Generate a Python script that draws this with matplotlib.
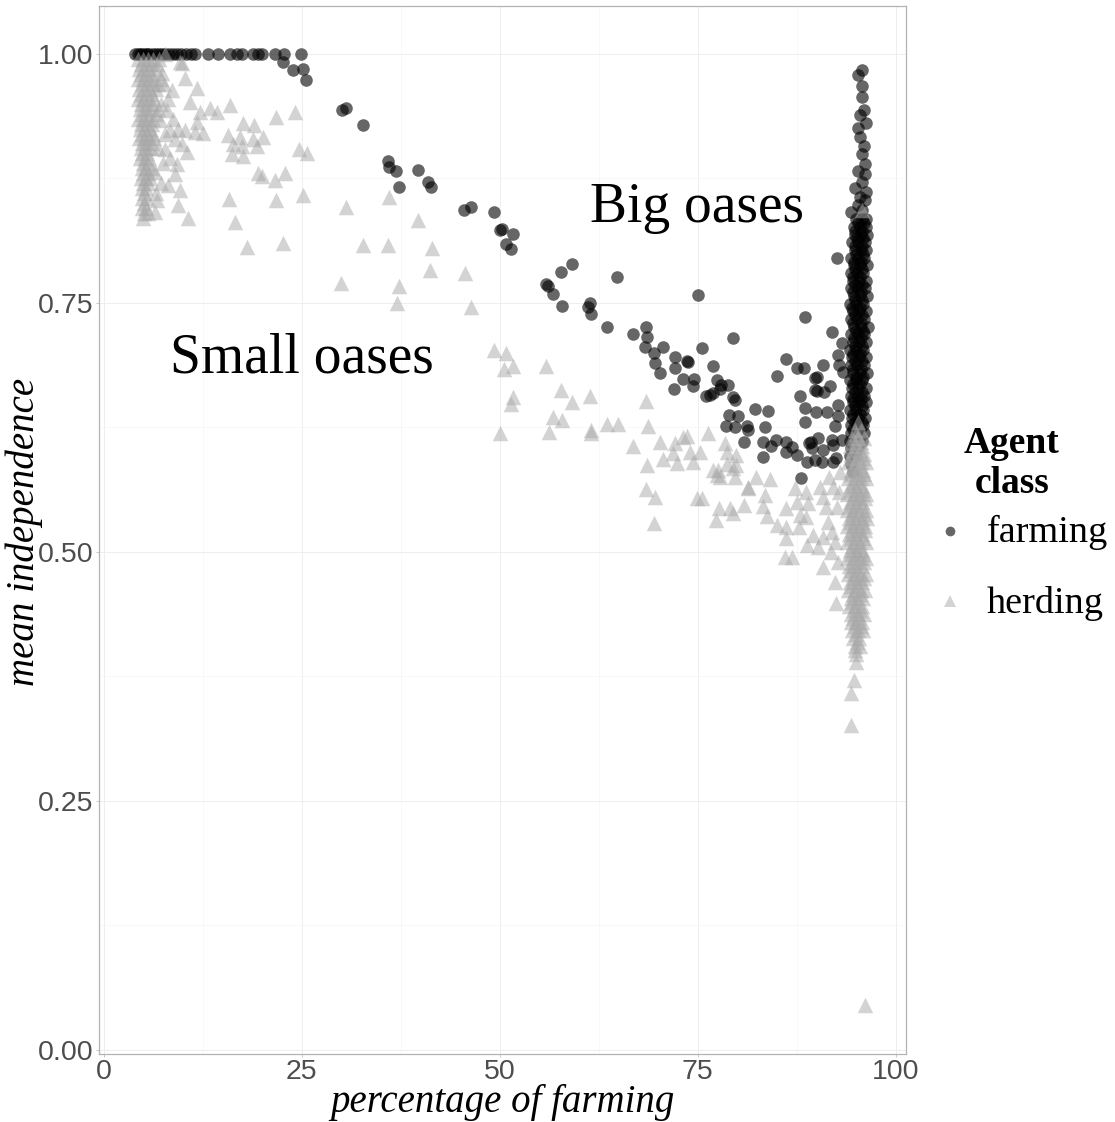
import matplotlib
matplotlib.use("Agg")
import matplotlib.pyplot as plt
from matplotlib.lines import Line2D


SERIF = "Liberation Serif"
SANS = "Liberation Sans"

FARM_COLOR = "#000000"
HERD_COLOR = "#A9A9A9"
FARM_ALPHA = 0.6
HERD_ALPHA = 0.5

# --- farming agents -------------------------------------------------------
# small oases where every farmer is fully independent
FARM_TOP_X = [4.0, 4.3, 4.6, 4.9, 5.2, 5.5, 5.8, 6.2, 6.6, 7.0, 7.4, 7.8, 8.3,
              8.8, 9.3, 9.8, 10.4, 11.0, 11.6, 13.2, 14.4, 16.0, 16.8, 17.5,
              18.9, 19.5, 20.0, 21.6, 22.8, 24.9]
FARM_TOP_Y = [1.0] * len(FARM_TOP_X)

# the diagonal trail between small and big oases
FARM_TRAIL_X = [
    22.7, 23.9, 25.2, 25.5, 30.1, 30.6, 32.7, 35.9, 36.0, 36.9, 37.3, 39.7,
    40.9, 41.3, 45.5, 46.4, 49.3, 50.0, 50.3, 51.7, 50.8, 51.4, 55.8, 56.1,
    56.8, 57.9, 57.7, 59.2, 61.4, 61.1, 61.5, 63.5, 64.8, 66.8, 68.5, 68.6,
    68.3, 69.5, 70.6, 69.6, 70.3, 72.0, 72.1, 72.2, 73.1, 73.6, 73.8, 74.4,
    74.6, 75.0, 75.6, 76.1, 76.5, 76.9, 77.0, 77.5, 77.8, 78.0, 78.8, 79.4,
    79.4, 79.7, 78.9, 78.6, 79.7, 80.1, 81.2, 81.4, 80.8, 82.3, 83.9, 83.5,
    83.2, 83.3, 84.2, 84.9, 86.2, 86.2, 86.9, 87.5, 88.0, 88.8, 89.3, 88.6,
    86.2, 87.5, 88.4, 85.0, 87.9, 88.6, 88.5, 89.8, 89.8, 89.8, 92.0, 93.2,
    92.7, 92.9, 93.3, 90.8, 90.1, 90.1, 91.0, 91.7, 90.0, 91.3, 92.7, 92.7,
    92.3, 90.2, 89.1, 89.4, 91.9, 92.1, 90.8, 93.2, 90.7, 92.1, 92.5, 92.6,
]
FARM_TRAIL_Y = [
    0.992, 0.984, 0.985, 0.974, 0.944, 0.946, 0.929, 0.892, 0.886, 0.882, 0.866, 0.883,
    0.871, 0.866, 0.843, 0.846, 0.841, 0.823, 0.824, 0.819, 0.809, 0.804, 0.769, 0.767,
    0.759, 0.747, 0.781, 0.789, 0.750, 0.746, 0.739, 0.726, 0.776, 0.719, 0.726, 0.716,
    0.706, 0.700, 0.706, 0.690, 0.680, 0.664, 0.696, 0.685, 0.674, 0.692, 0.691, 0.667,
    0.674, 0.758, 0.705, 0.657, 0.658, 0.660, 0.687, 0.673, 0.664, 0.668, 0.668, 0.715,
    0.656, 0.652, 0.637, 0.626, 0.625, 0.636, 0.626, 0.622, 0.610, 0.643, 0.641, 0.625,
    0.610, 0.595, 0.606, 0.612, 0.610, 0.600, 0.605, 0.597, 0.574, 0.590, 0.610, 0.736,
    0.694, 0.685, 0.685, 0.677, 0.657, 0.644, 0.630, 0.675, 0.663, 0.592, 0.721, 0.710,
    0.698, 0.688, 0.681, 0.688, 0.676, 0.662, 0.661, 0.667, 0.640, 0.640, 0.647, 0.636,
    0.626, 0.614, 0.609, 0.604, 0.612, 0.607, 0.602, 0.612, 0.590, 0.590, 0.594, 0.795,
]

# big oases: the tall column of farmers near 95 %
FARM_COL_X = [
    95.8, 95.3, 95.7, 95.8, 96.0, 95.5, 96.2, 95.3, 95.5, 96.0, 95.7, 96.1,
    95.2, 96.1, 95.7, 94.8, 96.3, 95.5, 96.1, 94.4, 95.2, 95.8,
    95.0, 95.7, 96.3, 95.3, 96.0,
    94.7, 95.5, 96.2, 94.9, 95.8,
    94.9, 95.6, 96.4, 95.1, 95.9,
    94.5, 95.3, 96.1, 94.8, 95.7,
    94.8, 95.6, 96.3, 95.0, 95.9,
    94.4, 95.2, 96.0, 94.7, 95.6,
    94.7, 95.5, 96.4, 94.9, 95.8,
    94.3, 95.1, 95.9, 94.6, 95.5,
    94.6, 95.4, 96.3, 94.9, 95.8,
    94.4, 95.2, 96.1, 94.6, 95.6,
    94.7, 95.5, 96.4, 94.9, 95.8,
    94.2, 95.0, 95.9, 94.5, 95.5,
    94.6, 95.4, 96.2, 94.9, 95.8,
    94.3, 95.1, 96.0, 94.6, 95.6,
    94.7, 95.6, 96.5, 95.0, 95.9,
    94.4, 95.2, 96.0, 94.7, 95.6,
    94.6, 95.4, 96.3, 94.9, 95.8,
    94.2, 95.0, 95.9, 94.6, 95.5,
    94.5, 95.4, 96.2, 94.9, 95.8,
    94.3, 95.1, 96.0, 94.6, 95.6,
    94.6, 95.5, 96.4, 95.0, 95.9,
    94.2, 95.0, 95.8, 94.6, 95.5,
    94.5, 95.3, 96.2, 94.9, 95.7,
    94.3, 95.2, 96.0, 94.6, 95.6,
    94.6, 95.4, 96.3, 94.9, 95.8,
    94.2, 95.0, 95.9, 94.6, 95.5,
    94.5, 95.3, 96.1, 94.8, 95.7,
    94.3, 95.1, 95.9, 94.6, 95.5,
    94.4, 95.2, 96.0, 94.7, 95.5,
    94.2, 95.0, 95.8, 94.6, 95.4,
    94.4, 95.1, 94.7,
    94.2, 94.9,
    94.3, 94.6,
]
FARM_COL_Y = [
    0.984, 0.979, 0.968, 0.957, 0.944, 0.939, 0.931, 0.926, 0.917, 0.907, 0.899, 0.889,
    0.882, 0.879, 0.871, 0.865, 0.861, 0.856, 0.853, 0.841, 0.848, 0.843,
    0.834, 0.834, 0.834, 0.830, 0.830,
    0.826, 0.826, 0.826, 0.822, 0.822,
    0.818, 0.818, 0.818, 0.815, 0.815,
    0.811, 0.811, 0.811, 0.807, 0.807,
    0.803, 0.803, 0.803, 0.799, 0.799,
    0.795, 0.795, 0.795, 0.791, 0.791,
    0.788, 0.788, 0.788, 0.784, 0.784,
    0.780, 0.780, 0.780, 0.776, 0.776,
    0.772, 0.772, 0.772, 0.768, 0.768,
    0.765, 0.765, 0.765, 0.761, 0.761,
    0.757, 0.757, 0.757, 0.753, 0.753,
    0.749, 0.749, 0.749, 0.745, 0.745,
    0.742, 0.742, 0.742, 0.738, 0.738,
    0.734, 0.734, 0.734, 0.730, 0.730,
    0.726, 0.726, 0.726, 0.722, 0.722,
    0.719, 0.719, 0.719, 0.715, 0.715,
    0.711, 0.711, 0.711, 0.707, 0.707,
    0.703, 0.703, 0.703, 0.699, 0.699,
    0.696, 0.696, 0.696, 0.692, 0.692,
    0.688, 0.688, 0.688, 0.684, 0.684,
    0.680, 0.680, 0.680, 0.676, 0.676,
    0.673, 0.673, 0.673, 0.669, 0.669,
    0.665, 0.665, 0.665, 0.661, 0.661,
    0.657, 0.657, 0.657, 0.653, 0.653,
    0.650, 0.650, 0.650, 0.646, 0.646,
    0.642, 0.642, 0.642, 0.638, 0.638,
    0.634, 0.634, 0.634, 0.630, 0.630,
    0.627, 0.627, 0.627, 0.623, 0.623,
    0.619, 0.619, 0.619, 0.615, 0.615,
    0.611, 0.611, 0.611, 0.607, 0.607,
    0.604, 0.604, 0.600,
    0.596, 0.596,
    0.588, 0.580,
]

# --- herding agents -------------------------------------------------------
# small oases: dense column around 5 % farming
HERD_LEFT_X = [
    4.4, 5.0, 5.6, 6.3, 7.0,
    4.7, 5.3, 6.0, 6.8,
    4.5, 5.1, 5.8, 6.6,
    4.7, 5.4, 6.1,
    4.4, 5.0, 5.6, 6.2, 7.2,
    4.8, 5.5, 6.3, 6.9,
    4.5, 5.2, 5.9, 6.6,
    4.7, 5.4, 6.1,
    4.4, 5.0, 5.7, 6.4,
    4.7, 5.3, 6.1,
    4.6, 5.3, 6.0, 6.9,
    4.9, 5.6, 6.6,
    4.4, 5.0, 5.6, 6.3,
    4.7, 5.3, 6.1,
    4.6, 5.2, 5.9,
    4.9, 5.5, 6.2,
    4.5, 5.1, 5.7, 6.4,
    4.8, 5.4, 6.1,
    4.7, 5.3, 6.0,
    4.9, 5.5,
    4.6, 5.2, 5.8,
    5.0, 5.6,
    4.8, 5.4, 6.1,
    5.0, 5.6,
    4.7, 5.3, 5.9,
    5.0, 5.6,
    4.8, 5.4,
    5.1,
    4.9, 5.5,
    5.1,
    4.8, 5.4,
    5.1, 5.6,
    5.0,
    7.4, 9.9, 10.3, 11.8, 10.9, 13.4, 14.3, 12.2, 11.8, 10.3, 11.5, 12.6,
    9.9, 10.5, 9.3, 9.0, 9.7, 9.4, 10.7, 8.4, 8.0, 6.5, 6.8, 6.5,
    7.8, 9.7, 8.6, 9.0, 7.8, 7.1, 8.1,
    7.6, 8.2, 7.3, 8.8, 7.7, 9.4, 6.9, 7.5, 8.4, 7.2, 6.6,
]
HERD_LEFT_Y = [
    0.995, 0.995, 0.995, 0.995, 0.995,
    0.990, 0.990, 0.990, 0.990,
    0.985, 0.985, 0.985, 0.985,
    0.980, 0.980, 0.980,
    0.975, 0.975, 0.975, 0.975, 0.975,
    0.970, 0.970, 0.970, 0.970,
    0.965, 0.965, 0.965, 0.965,
    0.960, 0.960, 0.960,
    0.955, 0.955, 0.955, 0.955,
    0.950, 0.950, 0.950,
    0.945, 0.945, 0.945, 0.945,
    0.940, 0.940, 0.940,
    0.935, 0.935, 0.935, 0.935,
    0.930, 0.930, 0.930,
    0.925, 0.925, 0.925,
    0.920, 0.920, 0.920,
    0.915, 0.915, 0.915, 0.915,
    0.910, 0.910, 0.910,
    0.905, 0.905, 0.905,
    0.900, 0.900,
    0.895, 0.895, 0.895,
    0.890, 0.890,
    0.885, 0.885, 0.885,
    0.880, 0.880,
    0.875, 0.875, 0.875,
    0.870, 0.870,
    0.865, 0.865,
    0.860,
    0.855, 0.855,
    0.850,
    0.845, 0.845,
    0.840, 0.840,
    0.835,
    0.981, 0.991, 0.976, 0.966, 0.952, 0.946, 0.942, 0.942, 0.932, 0.924, 0.922, 0.921,
    0.909, 0.901, 0.889, 0.879, 0.863, 0.848, 0.835, 0.924, 0.944, 0.881, 0.853, 0.841,
    1.000, 0.992, 0.964, 0.914, 0.904, 0.934, 0.868,
    0.970, 0.955, 0.950, 0.935, 0.920, 0.925, 0.905, 0.890, 0.895, 0.870, 0.860,
]

HERD_TRAIL_X = [
    16.0, 17.6, 19.0, 15.7, 17.2, 16.3, 17.5, 18.9, 20.1, 19.4, 16.2, 17.6,
    21.8, 24.2, 24.7, 25.7, 19.5, 20.0, 21.6, 22.9, 25.2, 15.8, 21.8, 30.6,
    16.6, 18.1, 22.7, 32.7, 35.9, 30.0, 37.3, 39.7, 36.1, 41.5, 41.2, 45.6,
    46.4, 37.0, 49.3, 50.8, 50.5, 51.7, 51.7, 51.5, 50.0, 55.9, 57.7, 59.2,
    61.4, 56.8, 57.9, 56.2, 61.5, 61.5, 63.5, 64.9, 68.5, 68.7, 66.8, 68.6,
    68.5, 69.6, 69.5, 70.3, 72.1, 73.1, 73.7, 71.9, 70.6, 72.4, 74.0, 74.4,
    75.3, 76.3, 76.9, 77.5, 78.7, 78.4, 79.9, 79.4, 82.4, 84.1, 81.3, 74.9,
    75.6, 77.7, 77.3, 79.1, 79.5, 78.7, 77.6, 77.8, 79.9, 79.7, 80.9, 81.4,
    83.5, 83.2, 83.7, 85.0, 86.2, 86.2, 86.2, 86.0, 86.9, 87.3, 88.7, 87.5,
    88.9, 87.9, 88.7, 87.8, 89.5, 88.8, 90.2, 90.8, 90.8, 90.4, 90.8, 92.1,
    92.3, 92.5, 91.5, 92.0, 91.8, 92.6, 91.2, 92.7, 92.4, 93.0, 92.8, 91.6,
]
HERD_TRAIL_Y = [
    0.949, 0.931, 0.929, 0.919, 0.917, 0.909, 0.907, 0.914, 0.917, 0.907, 0.899, 0.897,
    0.937, 0.942, 0.904, 0.900, 0.880, 0.877, 0.873, 0.880, 0.858, 0.854, 0.853, 0.846,
    0.831, 0.806, 0.810, 0.808, 0.808, 0.770, 0.767, 0.833, 0.856, 0.805, 0.783, 0.780,
    0.746, 0.750, 0.703, 0.700, 0.684, 0.687, 0.656, 0.648, 0.619, 0.687, 0.663, 0.650,
    0.657, 0.635, 0.632, 0.620, 0.622, 0.619, 0.628, 0.628, 0.651, 0.626, 0.606, 0.587,
    0.563, 0.555, 0.529, 0.610, 0.609, 0.615, 0.616, 0.599, 0.593, 0.589, 0.600, 0.590,
    0.600, 0.619, 0.582, 0.577, 0.600, 0.609, 0.597, 0.584, 0.575, 0.573, 0.564, 0.554,
    0.554, 0.544, 0.532, 0.544, 0.539, 0.588, 0.582, 0.575, 0.587, 0.575, 0.547, 0.565,
    0.557, 0.546, 0.536, 0.527, 0.544, 0.525, 0.514, 0.495, 0.495, 0.564, 0.560, 0.550,
    0.549, 0.537, 0.535, 0.525, 0.517, 0.507, 0.505, 0.515, 0.485, 0.565, 0.555, 0.565,
    0.470, 0.449, 0.530, 0.520, 0.500, 0.545, 0.545, 0.490, 0.510, 0.580, 0.560, 0.575,
]

# big oases: dense column of herders near 95 %
HERD_COL_X = [
    95.2,
    94.8, 95.6, 95.0,
    94.5, 95.3, 96.0, 94.8, 95.6,
    94.2, 95.0, 95.8, 94.6, 95.5,
    94.4, 95.2, 96.0, 94.4, 95.2, 95.9,
    94.0, 94.8, 95.6, 96.2, 94.6, 95.5,
    94.3, 95.1, 95.9, 94.4, 95.2, 96.0,
    94.0, 94.8, 95.6, 96.3, 94.6, 95.4,
    94.2, 95.0, 95.8, 94.3, 95.1, 95.9,
    93.9, 94.7, 95.5, 96.3, 94.6, 95.4, 96.1,
    94.2, 95.0, 95.8, 94.2, 95.0, 95.8,
    93.8, 94.6, 95.4, 96.2, 94.5, 95.3, 96.0,
    94.1, 94.9, 95.7, 96.4, 94.2, 95.0, 95.8,
    93.8, 94.6, 95.4, 96.1, 94.5, 95.3, 96.1,
    94.1, 94.9, 95.7, 94.3, 95.1, 95.9,
    93.9, 94.7, 95.5, 96.3, 94.5, 95.4,
    94.2, 95.0, 95.8, 94.3, 95.1, 95.9,
    93.9, 94.7, 95.5, 96.2, 94.5, 95.3, 96.0,
    94.1, 94.9, 95.7, 94.4, 95.2,
    94.0, 94.8, 95.6, 96.2, 94.6, 95.4, 96.0,
    94.2, 95.0, 95.8, 94.4, 95.2,
    94.0, 94.8, 95.6, 96.1, 94.6, 95.5,
    94.3, 95.1, 95.9, 94.5, 95.3,
    94.1, 94.9, 95.7, 94.7, 95.5,
    94.4, 95.2, 96.0, 94.6, 95.4,
    94.3, 95.0, 95.7, 94.9, 95.6,
    94.5, 95.3, 95.9, 95.0,
    94.6, 95.4, 95.1,
    94.8, 95.5, 94.9,
    95.0,
    95.0, 94.7, 94.3, 94.3, 96.1, 95.7,
]
HERD_COL_Y = [
    0.630,
    0.622, 0.622, 0.618,
    0.614, 0.614, 0.614, 0.610, 0.610,
    0.606, 0.606, 0.606, 0.602, 0.602,
    0.598, 0.598, 0.598, 0.594, 0.594, 0.594,
    0.590, 0.590, 0.590, 0.590, 0.586, 0.586,
    0.582, 0.582, 0.582, 0.578, 0.578, 0.578,
    0.574, 0.574, 0.574, 0.574, 0.570, 0.570,
    0.566, 0.566, 0.566, 0.562, 0.562, 0.562,
    0.558, 0.558, 0.558, 0.558, 0.554, 0.554, 0.554,
    0.550, 0.550, 0.550, 0.546, 0.546, 0.546,
    0.542, 0.542, 0.542, 0.542, 0.538, 0.538, 0.538,
    0.534, 0.534, 0.534, 0.534, 0.530, 0.530, 0.530,
    0.526, 0.526, 0.526, 0.526, 0.522, 0.522, 0.522,
    0.518, 0.518, 0.518, 0.514, 0.514, 0.514,
    0.510, 0.510, 0.510, 0.510, 0.506, 0.506,
    0.502, 0.502, 0.502, 0.498, 0.498, 0.498,
    0.494, 0.494, 0.494, 0.494, 0.490, 0.490, 0.490,
    0.486, 0.486, 0.486, 0.482, 0.482,
    0.478, 0.478, 0.478, 0.478, 0.474, 0.474, 0.474,
    0.470, 0.470, 0.470, 0.466, 0.466,
    0.462, 0.462, 0.462, 0.462, 0.458, 0.458,
    0.454, 0.454, 0.454, 0.450, 0.450,
    0.446, 0.446, 0.446, 0.442, 0.442,
    0.438, 0.438, 0.438, 0.434, 0.434,
    0.430, 0.430, 0.430, 0.426, 0.426,
    0.422, 0.422, 0.422, 0.418,
    0.414, 0.414, 0.410,
    0.406, 0.406, 0.402,
    0.398,
    0.389, 0.371, 0.358, 0.326, 0.045, 0.843,
]

X_TICKS = [0, 25, 50, 75, 100]
Y_TICKS = [0.0, 0.25, 0.5, 0.75, 1.0]
Y_TICK_LABELS = ["0.00", "0.25", "0.50", "0.75", "1.00"]


def main() -> None:
    fig = plt.figure(figsize=(11.15, 11.22), dpi=100)
    W, H = 1115, 1122
    ax = fig.add_axes([99 / W, 68 / H, 807 / W, 1048 / H])

    farm_x = FARM_TOP_X + FARM_TRAIL_X + FARM_COL_X
    farm_y = FARM_TOP_Y + FARM_TRAIL_Y + FARM_COL_Y
    herd_x = HERD_LEFT_X + HERD_TRAIL_X + HERD_COL_X
    herd_y = HERD_LEFT_Y + HERD_TRAIL_Y + HERD_COL_Y

    ax.scatter(farm_x, farm_y, s=82, marker="o", color=FARM_COLOR,
               alpha=FARM_ALPHA, linewidths=0, zorder=3)
    ax.scatter(herd_x, herd_y, s=125, marker="^", color=HERD_COLOR,
               alpha=HERD_ALPHA, linewidths=0, zorder=4)

    ax.set_xlim(-0.57, 101.3)
    ax.set_ylim(-0.004, 1.048)
    ax.set_xticks(X_TICKS)
    ax.set_xticks([12.5, 37.5, 62.5, 87.5], minor=True)
    ax.set_yticks(Y_TICKS)
    ax.set_yticklabels(Y_TICK_LABELS)
    ax.set_yticks([0.125, 0.375, 0.625, 0.875], minor=True)

    ax.grid(which="major", color="#EBEBEB", linewidth=0.6, zorder=0)
    ax.grid(which="minor", color="#F4F4F4", linewidth=0.4, zorder=0)
    ax.set_axisbelow(True)
    for spine in ax.spines.values():
        spine.set_color("#B3B3B3")
        spine.set_linewidth(0.9)

    ax.tick_params(which="major", length=2.2, width=0.5, color="#B3B3B3",
                   pad=1.5, labelsize=20.5, labelcolor="#4D4D4D")
    ax.tick_params(which="minor", length=0)
    for lab in ax.get_xticklabels() + ax.get_yticklabels():
        lab.set_fontfamily(SANS)

    # region labels
    ax.text(25.0, 0.680, "Small oases", family=SERIF, fontsize=40,
            ha="center", va="baseline", zorder=5)
    ax.text(74.9, 0.831, "Big oases", family=SERIF, fontsize=40,
            ha="center", va="baseline", zorder=5)

    # axis titles
    fig.text(502 / W, 1 - 1112 / H, "percentage of farming", family=SERIF,
             style="italic", fontsize=28, ha="center", va="baseline")
    fig.text(24 / W, 1 - 532 / H, "mean independence", family=SERIF,
             style="italic", fontsize=28, ha="center", va="center",
             rotation=90)

    # legend
    fig.text(1012 / W, 1 - 453 / H, "Agent", family=SERIF, weight="bold",
             fontsize=27, ha="center", va="baseline")
    fig.text(1012 / W, 1 - 493 / H, "class", family=SERIF, weight="bold",
             fontsize=27, ha="center", va="baseline")
    fig.add_artist(Line2D([950 / W], [1 - 531 / H], transform=fig.transFigure,
                          marker="o", markersize=7, linestyle="none",
                          markerfacecolor=FARM_COLOR, markeredgewidth=0,
                          alpha=FARM_ALPHA))
    fig.add_artist(Line2D([950 / W], [1 - 601 / H], transform=fig.transFigure,
                          marker="^", markersize=8.5, linestyle="none",
                          markerfacecolor=HERD_COLOR, markeredgewidth=0,
                          alpha=HERD_ALPHA))
    fig.text(987 / W, 1 - 542 / H, "farming", family=SERIF, fontsize=27.5,
             ha="left", va="baseline")
    fig.text(987 / W, 1 - 613 / H, "herding", family=SERIF, fontsize=27.5,
             ha="left", va="baseline")

    fig.savefig("out.png", dpi=100, facecolor="white")
    plt.close(fig)


if __name__ == "__main__":
    main()
